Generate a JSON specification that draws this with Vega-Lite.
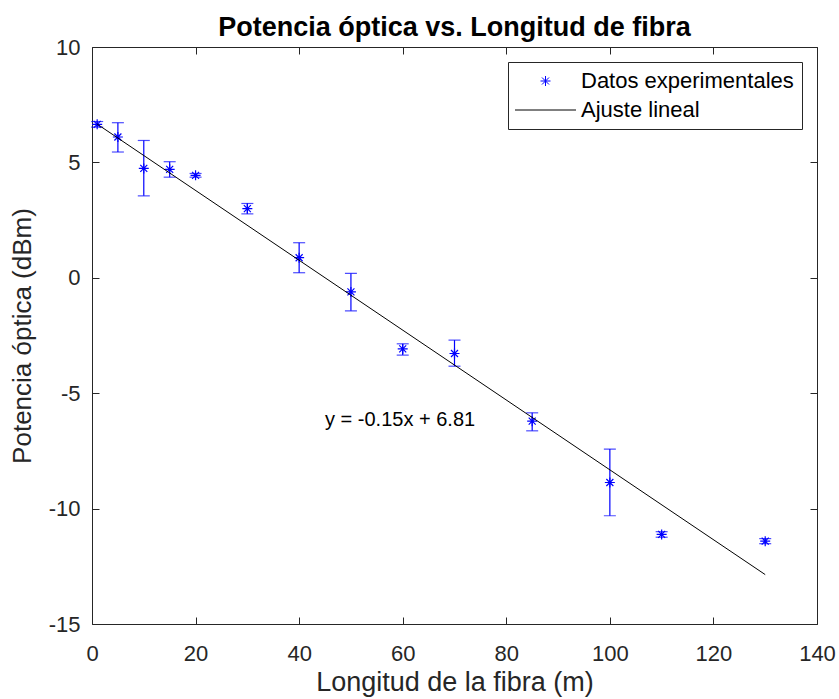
{
  "$schema": "https://vega.github.io/schema/vega-lite/v6.json",
  "width": 725,
  "height": 577,
  "autosize": "none",
  "padding": {"left": 92, "top": 47, "right": 22, "bottom": 75},
  "background": "white",
  "config": {
    "font": "Liberation Sans",
    "view": {"stroke": null},
    "axis": {
      "domainColor": "#262626",
      "tickColor": "#262626",
      "labelColor": "#262626",
      "titleColor": "#262626",
      "labelFontSize": 22,
      "titleFontSize": 26,
      "titleFontWeight": "normal",
      "labelFont": "Liberation Sans",
      "titleFont": "Liberation Sans",
      "grid": false,
      "tickSize": -7,
      "domainWidth": 1,
      "tickWidth": 1,
      "labelFlush": false,
      "labelOverlap": false,
      "labelExpr": "replace(datum.label, '\u2212', '-')"
    },
    "legend": {
      "title": null,
      "orient": "top-right",
      "offset": 15,
      "padding": 8,
      "strokeColor": "#262626",
      "fillColor": "white",
      "labelFontSize": 22,
      "labelColor": "black",
      "labelFont": "Liberation Sans",
      "labelLimit": 500,
      "labelOffset": 43,
      "symbolSize": 100,
      "symbolStrokeWidth": 1,
      "rowPadding": 7
    }
  },
  "title": {
    "text": "Potencia óptica vs. Longitud de fibra",
    "fontSize": 27,
    "fontWeight": "bold",
    "color": "black",
    "font": "Liberation Sans",
    "anchor": "middle",
    "offset": -6
  },
  "datasets": {
    "pts": [
      {"x": 1, "y": 6.65, "lo": 6.53, "hi": 6.77, "serie": "Datos experimentales"},
      {"x": 5, "y": 6.10, "lo": 5.45, "hi": 6.72, "serie": "Datos experimentales"},
      {"x": 10, "y": 4.74, "lo": 3.55, "hi": 5.95, "serie": "Datos experimentales"},
      {"x": 15, "y": 4.70, "lo": 4.36, "hi": 5.03, "serie": "Datos experimentales"},
      {"x": 20, "y": 4.44, "lo": 4.36, "hi": 4.52, "serie": "Datos experimentales"},
      {"x": 30, "y": 3.00, "lo": 2.77, "hi": 3.22, "serie": "Datos experimentales"},
      {"x": 40, "y": 0.87, "lo": 0.22, "hi": 1.52, "serie": "Datos experimentales"},
      {"x": 50, "y": -0.61, "lo": -1.43, "hi": 0.19, "serie": "Datos experimentales"},
      {"x": 60, "y": -3.08, "lo": -3.35, "hi": -2.86, "serie": "Datos experimentales"},
      {"x": 70, "y": -3.28, "lo": -3.83, "hi": -2.70, "serie": "Datos experimentales"},
      {"x": 85, "y": -6.21, "lo": -6.63, "hi": -5.85, "serie": "Datos experimentales"},
      {"x": 100, "y": -8.87, "lo": -10.31, "hi": -7.42, "serie": "Datos experimentales"},
      {"x": 110, "y": -11.12, "lo": -11.24, "hi": -11.00, "serie": "Datos experimentales"},
      {"x": 130, "y": -11.41, "lo": -11.52, "hi": -11.30, "serie": "Datos experimentales"}
    ],
    "fit": [
      {"x": 1, "y": 6.66, "serie": "Ajuste lineal"},
      {"x": 130, "y": -12.86, "serie": "Ajuste lineal"}
    ],
    "ann": [
      {"x": 45, "y": -6.17, "label": "y = -0.15x + 6.81"}
    ]
  },
  "resolve": {"axis": {"x": "independent", "y": "independent"}},
  "layer": [
    {
      "data": {"name": "pts"},
      "mark": {"type": "rule", "color": "#0000ff", "strokeWidth": 1.2},
      "encoding": {
        "x": {"field": "x", "type": "quantitative", "scale": {"domain": [0, 140], "nice": false},
              "axis": {"orient": "bottom", "values": [0, 20, 40, 60, 80, 100, 120, 140], "title": "Longitud de la fibra (m)", "titleFontSize": 27, "labelPadding": 26, "titlePadding": 5}},
        "y": {"field": "lo", "type": "quantitative", "scale": {"domain": [-15, 10], "nice": false},
              "axis": {"orient": "left", "values": [-15, -10, -5, 0, 5, 10], "title": "Potencia óptica (dBm)", "labelPadding": 19, "titlePadding": 13}},
        "y2": {"field": "hi"}
      }
    },
    {
      "data": {"name": "pts"},
      "mark": {"type": "tick", "orient": "horizontal", "color": "#0000ff", "size": 12, "thickness": 1.2},
      "encoding": {
        "x": {"field": "x", "type": "quantitative", "axis": null},
        "y": {"field": "lo", "type": "quantitative", "axis": null}
      }
    },
    {
      "data": {"name": "pts"},
      "mark": {"type": "tick", "orient": "horizontal", "color": "#0000ff", "size": 12, "thickness": 1.2},
      "encoding": {
        "x": {"field": "x", "type": "quantitative", "axis": null},
        "y": {"field": "hi", "type": "quantitative", "axis": null}
      }
    },
    {
      "data": {"name": "pts"},
      "mark": {"type": "point", "shape": "M0,-1L0,1M-1,0L1,0M-0.7,-0.7L0.7,0.7M-0.7,0.7L0.7,-0.7", "filled": false, "size": 100, "strokeWidth": 1.2, "opacity": 1, "color": "#0000ff"},
      "encoding": {
        "x": {"field": "x", "type": "quantitative", "axis": null},
        "y": {"field": "y", "type": "quantitative", "axis": null}
      }
    },
    {
      "data": {"name": "pts"},
      "transform": [{"filter": "false"}],
      "mark": {"type": "point", "filled": false, "size": 100, "strokeWidth": 1, "opacity": 1},
      "encoding": {
        "x": {"field": "x", "type": "quantitative", "axis": null},
        "y": {"field": "y", "type": "quantitative", "axis": null},
        "color": {"field": "serie", "type": "nominal",
                  "scale": {"domain": ["Datos experimentales", "Ajuste lineal"], "range": ["#0000ff", "#000000"]}},
        "shape": {"field": "serie", "type": "nominal",
                  "scale": {"domain": ["Datos experimentales", "Ajuste lineal"],
                            "range": ["M3.7,-1L3.7,1M2.7,0L4.7,0M3,-0.7L4.4,0.7M3,0.7L4.4,-0.7", "M-2.4,0L9.8,0"]}}
      }
    },
    {
      "data": {"name": "fit"},
      "mark": {"type": "line", "strokeWidth": 1, "color": "#000000"},
      "encoding": {
        "x": {"field": "x", "type": "quantitative",
              "axis": {"orient": "top", "values": [0, 20, 40, 60, 80, 100, 120, 140], "labels": false, "title": null}},
        "y": {"field": "y", "type": "quantitative",
              "axis": {"orient": "right", "values": [-15, -10, -5, 0, 5, 10], "labels": false, "title": null}}
      }
    },
    {
      "data": {"name": "ann"},
      "mark": {"type": "text", "align": "left", "baseline": "middle", "fontSize": 20, "color": "black", "font": "Liberation Sans"},
      "encoding": {
        "x": {"field": "x", "type": "quantitative", "axis": null},
        "y": {"field": "y", "type": "quantitative", "axis": null},
        "text": {"field": "label"}
      }
    }
  ]
}
